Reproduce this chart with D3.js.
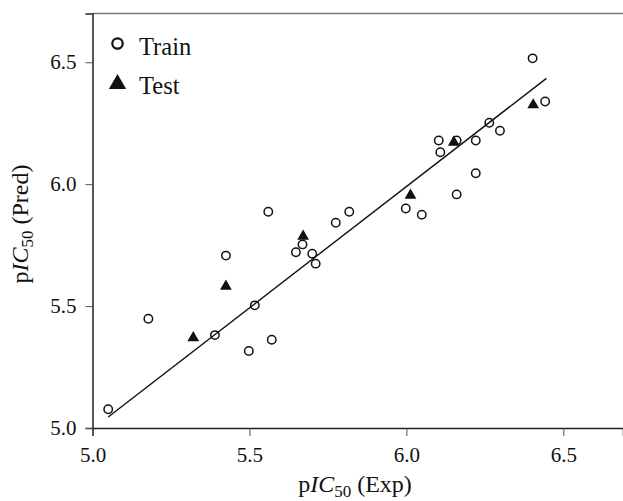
<!DOCTYPE html>
<html>
<head>
<meta charset="utf-8">
<script src="https://cdn.jsdelivr.net/npm/d3@7"></script>
<style>
body { margin: 0; background: #fff; }
text { font-family: "Liberation Serif", "Times New Roman", serif; fill: #111; }
</style>
</head>
<body>
<svg id="chart" width="623" height="501"></svg>
<script>
// data
const trainExp  = [5.05, 5.39, 5.498, 5.571, 5.178, 5.425, 5.517, 5.56, 5.648, 5.669, 5.70, 5.711, 5.775, 5.818, 5.998, 6.049, 6.221, 6.16, 6.402, 6.442, 6.264, 6.298, 6.221, 6.103, 6.108, 6.16];
const trainPred = [5.077, 5.381, 5.316, 5.362, 5.448, 5.707, 5.503, 5.887, 5.721, 5.753, 5.715, 5.674, 5.842, 5.887, 5.900, 5.875, 6.045, 5.958, 6.516, 6.339, 6.252, 6.219, 6.179, 6.179, 6.131, 6.179];
const testExp   = [5.321, 5.425, 5.671, 6.013, 6.151, 6.404];
const testPred  = [5.370, 5.581, 5.786, 5.954, 6.172, 6.325];
const fitExp    = [5.05, 6.446];
const fitPred   = [5.045, 6.434];
const tickVals  = [5.0, 5.5, 6.0, 6.5];

const mLeft = 92.5, mRight = 623, mTop = 13.5, mBottom = 428;
const serif = '"Liberation Serif", "Times New Roman", serif';

const svg = d3.select('#chart');

const x = d3.scaleLinear().domain([5.0, 6.69]).range([mLeft, mRight]);
const y = d3.scaleLinear().domain([5.0, 6.7]).range([mBottom, mTop]);

// top frame line
svg.append('line')
    .attr('x1', mLeft).attr('x2', mRight)
    .attr('y1', mTop).attr('y2', mTop)
    .attr('stroke', '#777').attr('stroke-width', 1.5);

const xAxis = svg.append('g')
    .attr('transform', `translate(0,${mBottom})`)
    .call(d3.axisBottom(x).tickValues(tickVals).tickFormat(d3.format('.1f')).tickSizeOuter(0).tickSize(8).tickPadding(6))
    .attr('font-family', serif);
xAxis.select('.domain').attr('stroke', '#222').attr('stroke-width', 1.5);
xAxis.selectAll('.tick line').attr('stroke', '#555');
xAxis.selectAll('.tick text').attr('font-size', 21).attr('dy', '0.95em');

const yAxis = svg.append('g')
    .attr('transform', `translate(${mLeft},0)`)
    .call(d3.axisLeft(y).tickValues(tickVals).tickFormat(d3.format('.1f')).tickSizeOuter(0).tickSize(7).tickPadding(9))
    .attr('font-family', serif);
yAxis.select('.domain').attr('stroke', '#222').attr('stroke-width', 1.5);
yAxis.selectAll('.tick line').attr('stroke', '#555');
yAxis.selectAll('.tick text').attr('font-size', 21);

// regression line
svg.append('line')
    .attr('x1', x(fitExp[0])).attr('y1', y(fitPred[0]))
    .attr('x2', x(fitExp[1])).attr('y2', y(fitPred[1]))
    .attr('stroke', '#111').attr('stroke-width', 1.4);

const train = trainExp.map((v, i) => ({ exp: v, pred: trainPred[i] }));
const test = testExp.map((v, i) => ({ exp: v, pred: testPred[i] }));

svg.append('g').selectAll('circle').data(train).join('circle')
    .attr('cx', d => x(d.exp)).attr('cy', d => y(d.pred))
    .attr('r', 4.2)
    .attr('fill', 'none').attr('stroke', '#111').attr('stroke-width', 1.5);

const tri = d3.symbol().type(d3.symbolTriangle).size(60);
svg.append('g').selectAll('path').data(test).join('path')
    .attr('d', tri)
    .attr('transform', d => `translate(${x(d.exp)},${y(d.pred)})`)
    .attr('fill', '#111');

// legend
const lg = svg.append('g');
lg.append('circle').attr('cx', 117.5).attr('cy', 43.5).attr('r', 5.2)
    .attr('fill', 'none').attr('stroke', '#111').attr('stroke-width', 2.2);
lg.append('text').attr('x', 139).attr('y', 55).attr('font-size', 24.5).text('Train');
lg.append('path').attr('d', d3.symbol().type(d3.symbolTriangle).size(130))
    .attr('transform', 'translate(117.5,84)').attr('fill', '#111');
lg.append('text').attr('x', 139).attr('y', 94).attr('font-size', 24.5).text('Test');

// axis titles
function title(sel, word) {
    sel.append('tspan').text('p');
    sel.append('tspan').attr('font-style', 'italic').text('IC');
    sel.append('tspan').attr('font-size', 17).attr('dy', 5).text('50');
    sel.append('tspan').attr('dy', -5).text(' (' + word + ')');
}
const xt = svg.append('text')
    .attr('x', 355).attr('y', 492)
    .attr('text-anchor', 'middle').attr('font-size', 24);
title(xt, 'Exp');

const yt = svg.append('text')
    .attr('transform', `translate(28,224) rotate(-90)`)
    .attr('text-anchor', 'middle').attr('font-size', 24);
title(yt, 'Pred');
</script>
</body>
</html>
